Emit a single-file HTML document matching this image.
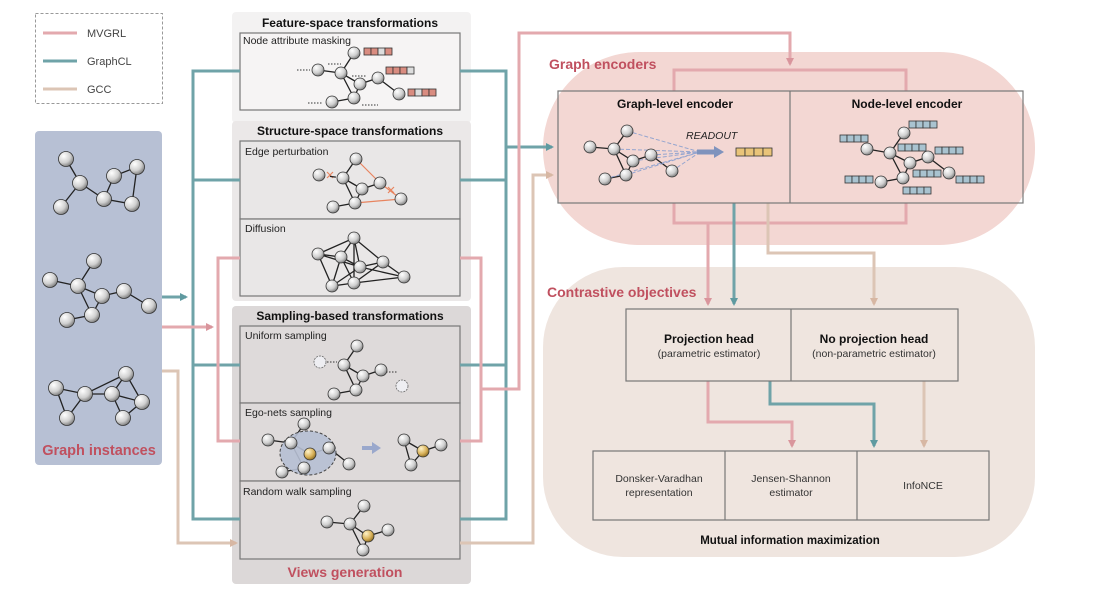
<!DOCTYPE html>
<html><head><meta charset="utf-8"><style>
html,body{margin:0;padding:0;background:#fff;}
svg{display:block;font-family:"Liberation Sans",sans-serif;}
</style></head><body>
<svg width="1103" height="601" viewBox="0 0 1103 601" xmlns="http://www.w3.org/2000/svg">
<defs>
<radialGradient id="g" cx="0.35" cy="0.3" r="0.75"><stop offset="0" stop-color="#fff"/><stop offset="0.6" stop-color="#cfcfcf"/><stop offset="1" stop-color="#777"/></radialGradient>
<radialGradient id="y" cx="0.35" cy="0.3" r="0.75"><stop offset="0" stop-color="#fff3c8"/><stop offset="0.6" stop-color="#d9b25a"/><stop offset="1" stop-color="#8a6a20"/></radialGradient>
<marker id="ap" markerWidth="8" markerHeight="8" refX="6" refY="4" orient="auto" markerUnits="userSpaceOnUse"><path d="M0,0L8,4L0,8z" fill="#d9959c"/></marker>
<marker id="at" markerWidth="8" markerHeight="8" refX="6" refY="4" orient="auto" markerUnits="userSpaceOnUse"><path d="M0,0L8,4L0,8z" fill="#5f9aa0"/></marker>
<marker id="ag" markerWidth="8" markerHeight="8" refX="6" refY="4" orient="auto" markerUnits="userSpaceOnUse"><path d="M0,0L8,4L0,8z" fill="#d7b7a3"/></marker>
</defs>

<!-- legend -->
<rect x="35.5" y="13.5" width="127" height="90" fill="none" stroke="#999" stroke-dasharray="3,2"/>
<g stroke-width="3"><line x1="43" y1="33" x2="77" y2="33" stroke="#e3a9ae"/><line x1="43" y1="61" x2="77" y2="61" stroke="#6fa3a8"/><line x1="43" y1="89" x2="77" y2="89" stroke="#dcc5b5"/></g>
<g font-size="11" fill="#444"><text x="87" y="37">MVGRL</text><text x="87" y="65">GraphCL</text><text x="87" y="93">GCC</text></g>

<!-- blobs -->
<rect x="543" y="52" width="492" height="193" rx="96" fill="#f3d7d3"/>
<rect x="543" y="267" width="492" height="290" rx="80" fill="#efe5df"/>
<text x="549" y="69" font-size="14" fill="#c0505f" font-weight="bold">Graph encoders</text>
<text x="547" y="297" font-size="14" fill="#c0505f" font-weight="bold">Contrastive objectives</text>

<!-- graph instances panel -->
<rect x="35" y="131" width="127" height="334" rx="4" fill="#b7c0d4"/>
<text x="99" y="455" font-size="14.5" fill="#c0505f" font-weight="bold" text-anchor="middle">Graph instances</text>

<!-- panels -->
<rect x="232" y="12" width="239" height="111" rx="4" fill="#f3f2f2"/>
<rect x="232" y="121" width="239" height="180" rx="4" fill="#ebe8e8"/>
<rect x="232" y="306" width="239" height="278" rx="4" fill="#dcd8d8"/>
<g font-size="12" font-weight="bold" fill="#111" text-anchor="middle">
<text x="350" y="27">Feature-space transformations</text>
<text x="350" y="135">Structure-space transformations</text>
<text x="350" y="320">Sampling-based transformations</text>
</g>
<text x="345" y="577" font-size="14" fill="#c0505f" font-weight="bold" text-anchor="middle">Views generation</text>
<g fill="none" stroke="#777" stroke-width="1.2">
<rect x="240" y="33" width="220" height="77" fill="#f6f4f4"/>
<rect x="240" y="141" width="220" height="78" fill="#e9e7e7"/>
<rect x="240" y="219" width="220" height="77" fill="#e9e7e7"/>
<rect x="240" y="326" width="220" height="77" fill="#dedada"/>
<rect x="240" y="403" width="220" height="78" fill="#dedada"/>
<rect x="240" y="481" width="220" height="78" fill="#dedada"/>
</g>
<g font-size="10.5" fill="#222">
<text x="243" y="44">Node attribute masking</text>
<text x="245" y="155">Edge perturbation</text>
<text x="245" y="232">Diffusion</text>
<text x="245" y="339">Uniform sampling</text>
<text x="245" y="416">Ego-nets sampling</text>
<text x="243" y="495">Random walk sampling</text>
</g>

<!-- connectors GraphCL -->
<g fill="none" stroke="#6fa3a8" stroke-width="3">
<polyline points="162,297 186,297" marker-end="url(#at)"/>
<polyline points="240,71 193,71 193,519 240,519"/>
<line x1="193" y1="180" x2="240" y2="180"/><line x1="193" y1="365" x2="240" y2="365"/>
<polyline points="460,71 506,71 506,519 460,519"/>
<line x1="460" y1="180" x2="506" y2="180"/><line x1="460" y1="365" x2="506" y2="365"/>
<polyline points="506,147 552,147" marker-end="url(#at)"/>
</g>
<!-- MVGRL -->
<g fill="none" stroke="#e3a9ae" stroke-width="3">
<polyline points="162,327 212,327" marker-end="url(#ap)"/>
<polyline points="240,258 218,258 218,441 240,441"/>
<polyline points="460,258 481,258 481,441 460,441"/>
<polyline points="481,389 519,389 519,33 790,33 790,64" marker-end="url(#ap)"/>
</g>
<!-- GCC -->
<g fill="none" stroke="#dcc5b5" stroke-width="3">
<polyline points="162,371 178,371 178,543 236,543" marker-end="url(#ag)"/>
<polyline points="460,543 533,543 533,175 552,175" marker-end="url(#ag)"/>
</g>

<!-- encoder connectors -->
<g fill="none" stroke-width="3">
<polyline points="674,91 674,70 906,70 906,91" stroke="#e3a9ae"/>
<polyline points="674,203 674,223 906,223 906,203" stroke="#e3a9ae"/>
<polyline points="708,223 708,304" stroke="#e3a9ae" marker-end="url(#ap)"/>
<polyline points="734,203 734,304" stroke="#6fa3a8" marker-end="url(#at)"/>
<polyline points="768,203 768,253 874,253 874,304" stroke="#dcc5b5" marker-end="url(#ag)"/>
<polyline points="708,381 708,422 792,422 792,446" stroke="#e3a9ae" marker-end="url(#ap)"/>
<polyline points="770,381 770,404 874,404 874,446" stroke="#6fa3a8" marker-end="url(#at)"/>
<polyline points="924,381 924,446" stroke="#dcc5b5" marker-end="url(#ag)"/>
</g>

<!-- encoder boxes -->
<g fill="none" stroke="#777" stroke-width="1.2">
<rect x="558" y="91" width="465" height="112"/><line x1="790" y1="91" x2="790" y2="203"/>
<rect x="626" y="309" width="332" height="72"/><line x1="791" y1="309" x2="791" y2="381"/>
<rect x="593" y="451" width="396" height="69"/><line x1="725" y1="451" x2="725" y2="520"/><line x1="857" y1="451" x2="857" y2="520"/>
</g>
<g font-size="12" font-weight="bold" fill="#111" text-anchor="middle">
<text x="675" y="108">Graph-level encoder</text>
<text x="907" y="108">Node-level encoder</text>
<text x="709" y="343">Projection head</text>
<text x="874" y="343">No projection head</text>
<text x="790" y="544" font-size="11.5">Mutual  information maximization</text>
</g>
<g font-size="10.5" fill="#333" text-anchor="middle">
<text x="709" y="357">(parametric estimator)</text>
<text x="874" y="357">(non-parametric estimator)</text>
<text x="659" y="482">Donsker-Varadhan</text><text x="659" y="496">representation</text>
<text x="791" y="482">Jensen-Shannon</text><text x="791" y="496">estimator</text>
<text x="923" y="489">InfoNCE</text>
</g>

<!-- graphs: edges -->
<g stroke="#222" stroke-width="1.3" fill="none">
<!-- inst1 -->
<path d="M66,159L80,183L61,207M80,183L104,199L114,176L137,167L132,204L104,199"/>
<!-- inst2 -->
<path d="M94,261L78,286L50,280M78,286L102,296L124,291L149,306M102,296L92,315L67,320M78,286L92,315"/>
<!-- inst3 -->
<path d="M56,388L85,394L126,374L142,402L123,418L112,394L85,394L67,418L56,388M112,394L142,402M126,374L112,394"/>
<!-- masking -->
<path d="M318,70L341,73L354,53M341,73L360,84L378,78L399,94M341,73L354,98L332,102M354,98L360,84"/>
<!-- edge pert -->
<path d="M343,178L356,159M343,178L362,189L380,183M343,178L355,203L333,207M355,203L362,189"/>
<!-- diffusion -->
<path d="M318,254L354,238L341,257L318,254L332,286L354,283L404,277L383,262L354,238L360,267L341,257L332,286M354,238L354,283M360,267L383,262M360,267L404,277M341,257L354,283M318,254L360,267M332,286L360,267M354,283L383,262"/>
<!-- uniform -->
<path d="M357,346L344,365L363,376L381,370M344,365L356,390L334,394M356,390L363,376"/>
<!-- ego -->
<path d="M268,440L291,443L304,424M291,443L310,454L329,448L349,464M291,443L304,468L282,472M304,468L310,454"/>
<path d="M404,440L423,451L441,445M404,440L411,465L423,451"/>
<!-- rw -->
<path d="M327,522L350,524L364,506M350,524L368,536L388,530M350,524L363,550L368,536"/>
<!-- graph-level -->
<path d="M590,147L614,149L627,131M614,149L633,161L651,155L672,171M614,149L626,175L605,179M626,175L633,161"/>
<!-- node-level -->
<path d="M867,149L890,153L904,133M890,153L910,163L928,157L949,173M890,153L903,178L881,182M903,178L910,163"/>
</g>
<g stroke="#e8845f" stroke-width="1.2"><path d="M356,159L380,183M355,203L401,199M380,183L401,199" stroke-dasharray="0"/></g>
<g stroke="#e8845f" stroke-width="1.2"><path d="M327,172L333,178M333,172L327,178M388,187L394,193M394,187L388,193"/></g>
<path d="M319,175L343,178" stroke="#222" stroke-width="1.3" stroke-dasharray="6,5"/>
<g stroke="#333" stroke-width="1" stroke-dasharray="1.5,1.5"><path d="M297,70H310M328,64H341M352,76H367M308,103H323M362,105H378M327,362H337M386,372H398"/></g>
<g stroke="#8ba0cf" stroke-width="1" stroke-dasharray="4,2" opacity="0.9"><path d="M627,131L700,152M614,149L700,152M633,161L700,152M651,155L700,152M672,171L700,152M626,175L700,152M605,179L700,152"/></g>
<path d="M697,152H716" stroke="#7f93bd" stroke-width="5"/><path d="M714,146L724,152L714,158z" fill="#7f93bd"/>
<text x="686" y="139" font-size="10.5" font-style="italic" fill="#222">READOUT</text>
<ellipse cx="308" cy="453" rx="28" ry="22" fill="#b7c0d4" stroke="#333" stroke-dasharray="3,2" opacity="0.9"/>
<path d="M362,448H374" stroke="#9aa8cc" stroke-width="4"/><path d="M372,442L381,448L372,454z" fill="#9aa8cc"/>

<!-- nodes -->
<g fill="url(#g)" stroke="#333" stroke-width="0.8">
<circle cx="66" cy="159" r="7.5"/><circle cx="80" cy="183" r="7.5"/><circle cx="61" cy="207" r="7.5"/><circle cx="104" cy="199" r="7.5"/><circle cx="114" cy="176" r="7.5"/><circle cx="137" cy="167" r="7.5"/><circle cx="132" cy="204" r="7.5"/>
<circle cx="94" cy="261" r="7.5"/><circle cx="50" cy="280" r="7.5"/><circle cx="78" cy="286" r="7.5"/><circle cx="102" cy="296" r="7.5"/><circle cx="124" cy="291" r="7.5"/><circle cx="149" cy="306" r="7.5"/><circle cx="92" cy="315" r="7.5"/><circle cx="67" cy="320" r="7.5"/>
<circle cx="56" cy="388" r="7.5"/><circle cx="85" cy="394" r="7.5"/><circle cx="126" cy="374" r="7.5"/><circle cx="112" cy="394" r="7.5"/><circle cx="142" cy="402" r="7.5"/><circle cx="123" cy="418" r="7.5"/><circle cx="67" cy="418" r="7.5"/>
<g transform="translate(0,0)">
<circle cx="318" cy="70" r="6"/><circle cx="341" cy="73" r="6"/><circle cx="354" cy="53" r="6"/><circle cx="360" cy="84" r="6"/><circle cx="378" cy="78" r="6"/><circle cx="399" cy="94" r="6"/><circle cx="354" cy="98" r="6"/><circle cx="332" cy="102" r="6"/>
<circle cx="356" cy="159" r="6"/><circle cx="319" cy="175" r="6"/><circle cx="343" cy="178" r="6"/><circle cx="380" cy="183" r="6"/><circle cx="362" cy="189" r="6"/><circle cx="401" cy="199" r="6"/><circle cx="355" cy="203" r="6"/><circle cx="333" cy="207" r="6"/>
<circle cx="354" cy="238" r="6"/><circle cx="318" cy="254" r="6"/><circle cx="341" cy="257" r="6"/><circle cx="360" cy="267" r="6"/><circle cx="383" cy="262" r="6"/><circle cx="404" cy="277" r="6"/><circle cx="332" cy="286" r="6"/><circle cx="354" cy="283" r="6"/>
<circle cx="357" cy="346" r="6"/><circle cx="344" cy="365" r="6"/><circle cx="381" cy="370" r="6"/><circle cx="363" cy="376" r="6"/><circle cx="356" cy="390" r="6"/><circle cx="334" cy="394" r="6"/>
<circle cx="304" cy="424" r="6"/><circle cx="268" cy="440" r="6"/><circle cx="291" cy="443" r="6"/><circle cx="329" cy="448" r="6"/><circle cx="349" cy="464" r="6"/><circle cx="304" cy="468" r="6"/><circle cx="282" cy="472" r="6"/>
<circle cx="404" cy="440" r="6"/><circle cx="441" cy="445" r="6"/><circle cx="411" cy="465" r="6"/>
<circle cx="364" cy="506" r="6"/><circle cx="327" cy="522" r="6"/><circle cx="350" cy="524" r="6"/><circle cx="388" cy="530" r="6"/><circle cx="363" cy="550" r="6"/>
<circle cx="627" cy="131" r="6"/><circle cx="590" cy="147" r="6"/><circle cx="614" cy="149" r="6"/><circle cx="633" cy="161" r="6"/><circle cx="651" cy="155" r="6"/><circle cx="672" cy="171" r="6"/><circle cx="626" cy="175" r="6"/><circle cx="605" cy="179" r="6"/>
<circle cx="904" cy="133" r="6"/><circle cx="867" cy="149" r="6"/><circle cx="890" cy="153" r="6"/><circle cx="928" cy="157" r="6"/><circle cx="910" cy="163" r="6"/><circle cx="949" cy="173" r="6"/><circle cx="903" cy="178" r="6"/><circle cx="881" cy="182" r="6"/>
</g>
</g>
<g fill="#eeeef2" stroke="#666" stroke-width="0.8" stroke-dasharray="2,1"><circle cx="320" cy="362" r="6"/><circle cx="402" cy="386" r="6"/></g>
<g fill="url(#y)" stroke="#333" stroke-width="0.8"><circle cx="310" cy="454" r="6"/><circle cx="423" cy="451" r="6"/><circle cx="368" cy="536" r="6"/></g>

<!-- feature bars -->
<g stroke="#333" stroke-width="0.8">
<g transform="translate(364,48)"><rect width="7" height="7" fill="#d98c80"/><rect x="7" width="7" height="7" fill="#d98c80"/><rect x="14" width="7" height="7" fill="#ddd"/><rect x="21" width="7" height="7" fill="#d98c80"/></g>
<g transform="translate(386,67)"><rect width="7" height="7" fill="#d98c80"/><rect x="7" width="7" height="7" fill="#d98c80"/><rect x="14" width="7" height="7" fill="#d98c80"/><rect x="21" width="7" height="7" fill="#ddd"/></g>
<g transform="translate(408,89)"><rect width="7" height="7" fill="#d98c80"/><rect x="7" width="7" height="7" fill="#ddd"/><rect x="14" width="7" height="7" fill="#d98c80"/><rect x="21" width="7" height="7" fill="#d98c80"/></g>
<g transform="translate(736,148)" fill="#e9c479"><rect width="9" height="8"/><rect x="9" width="9" height="8"/><rect x="18" width="9" height="8"/><rect x="27" width="9" height="8"/></g>
<g fill="#a9c3d0">
<g transform="translate(909,121)"><rect width="7" height="7"/><rect x="7" width="7" height="7"/><rect x="14" width="7" height="7"/><rect x="21" width="7" height="7"/></g>
<g transform="translate(840,135)"><rect width="7" height="7"/><rect x="7" width="7" height="7"/><rect x="14" width="7" height="7"/><rect x="21" width="7" height="7"/></g>
<g transform="translate(898,144)"><rect width="7" height="7"/><rect x="7" width="7" height="7"/><rect x="14" width="7" height="7"/><rect x="21" width="7" height="7"/></g>
<g transform="translate(935,147)"><rect width="7" height="7"/><rect x="7" width="7" height="7"/><rect x="14" width="7" height="7"/><rect x="21" width="7" height="7"/></g>
<g transform="translate(913,170)"><rect width="7" height="7"/><rect x="7" width="7" height="7"/><rect x="14" width="7" height="7"/><rect x="21" width="7" height="7"/></g>
<g transform="translate(845,176)"><rect width="7" height="7"/><rect x="7" width="7" height="7"/><rect x="14" width="7" height="7"/><rect x="21" width="7" height="7"/></g>
<g transform="translate(956,176)"><rect width="7" height="7"/><rect x="7" width="7" height="7"/><rect x="14" width="7" height="7"/><rect x="21" width="7" height="7"/></g>
<g transform="translate(903,187)"><rect width="7" height="7"/><rect x="7" width="7" height="7"/><rect x="14" width="7" height="7"/><rect x="21" width="7" height="7"/></g>
</g>
</g>
</svg>
</body></html>
